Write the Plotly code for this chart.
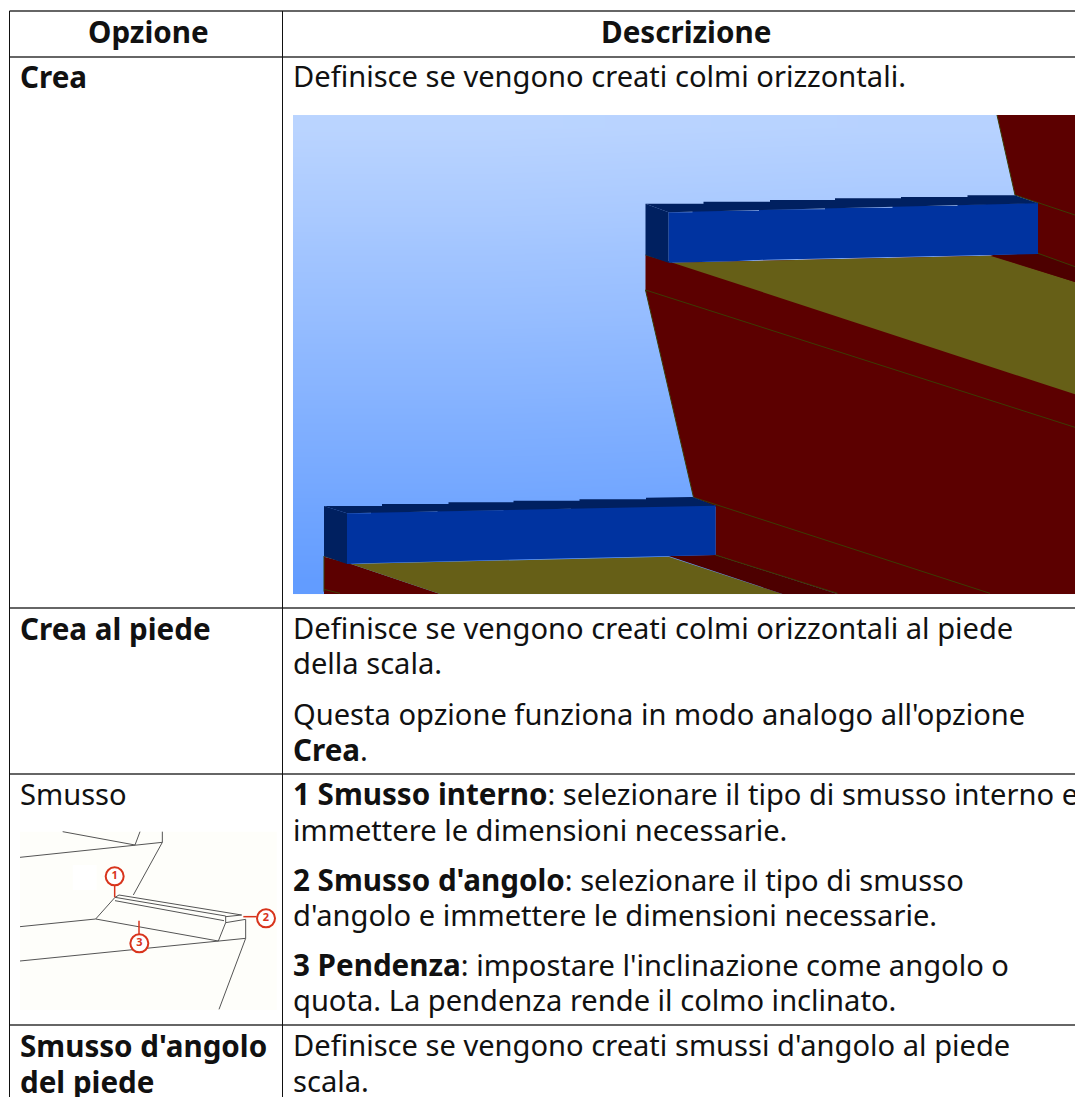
import plotly.graph_objects as go

W, H = 1075, 1097
FONT = "Noto Sans"
FS = 29.1
BOLD = '<b style="font-size:29.6px">%s</b>'

# ---- table grid (page pixels)
grid_rows = [11, 57, 608, 774, 1025]
grid_cols = [9.5, 282.5]

# ---- table text: (x, y, anchor, text)
cells = [
    (148, 31, "center", BOLD % "Opzione"),
    (686, 31, "center", BOLD % "Descrizione"),
    (18, 76, "left", BOLD % "Crea"),
    (291, 76, "left", "Definisce se vengono creati colmi orizzontali."),
    (18, 628, "left", BOLD % "Crea al piede"),
    (291, 628, "left", "Definisce se vengono creati colmi orizzontali al piede"),
    (291, 663, "left", "della scala."),
    (291, 714, "left", "Questa opzione funziona in modo analogo all'opzione"),
    (291, 749, "left", (BOLD % "Crea") + "."),
    (18, 794, "left", "Smusso"),
    (291, 793, "left", (BOLD % "1 Smusso interno") + ": selezionare il tipo di smusso interno e"),
    (291, 830, "left", "immettere le dimensioni necessarie."),
    (291, 879, "left", (BOLD % "2 Smusso d'angolo") + ": selezionare il tipo di smusso"),
    (291, 915, "left", "d'angolo e immettere le dimensioni necessarie."),
    (291, 964, "left", (BOLD % "3 Pendenza") + ": impostare l'inclinazione come angolo o"),
    (291, 1000, "left", "quota. La pendenza rende il colmo inclinato."),
    (18, 1045, "left", BOLD % "Smusso d'angolo"),
    (18, 1081, "left", BOLD % "del piede"),
    (291, 1045, "left", "Definisce se vengono creati smussi d'angolo al piede"),
    (291, 1081, "left", "scala."),
]

# ---- sky gradient of the picture (cell centres; cells fill the picture exactly)
sky_x = [488.5, 879.5]
sky_y = [127, 150.95, 174.9, 198.85, 222.8, 246.75, 270.7, 294.65, 318.6, 342.55, 366.5,
         390.45, 414.4, 438.35, 462.3, 486.25, 510.2, 534.15, 558.1, 582.05]
sky_z = [
    [0.00, 0.03], [0.05, 0.08], [0.10, 0.13], [0.15, 0.18], [0.20, 0.23],
    [0.26, 0.29], [0.31, 0.34], [0.36, 0.39], [0.41, 0.44], [0.47, 0.50],
    [0.52, 0.55], [0.57, 0.60], [0.63, 0.66], [0.68, 0.71], [0.73, 0.76],
    [0.78, 0.81], [0.84, 0.87], [0.89, 0.92], [0.94, 0.97], [1.00, 1.03],
]
sky_colors = [[0, "#bad4ff"], [1, "#5f9aff"]]

# ---- picture polygons, in picture units
RED, STRIP, OLIVE, BLUE, DARK, EDGE = "#5c0000", "#4d0000", "#665f17", "#0033a0", "#002060", "#3c3c04"
poly_red_x = [711, 711, 807, 851, 851, 1095, 1570, 1570, 1414, 1450, 1496, 1496, 1400, 765]
poly_red_y = [435, 540, 1162, 1190, 1335, 1452, 1452, 15, 15, 255, 280, 432, 437, 458]
poly_red_left_x = [68, 122, 300, 68]
poly_red_left_y = [1340, 1362, 1452, 1452]
poly_olive_up_x = [765, 1400, 1570, 1570]
poly_olive_up_y = [458, 437, 516, 853]
poly_strip_up_x = [1400, 1496, 1570, 1570]
poly_strip_up_y = [435, 430, 470, 516]
poly_olive_low_x = [122, 757, 985, 300]
poly_olive_low_y = [1362, 1340, 1452, 1452]
poly_strip_low_x = [757, 851, 1095, 985]
poly_strip_low_y = [1338, 1335, 1452, 1452]

up_top_x = [711, 827, 827, 960, 960, 1090, 1090, 1222, 1222, 1355, 1355, 1450, 1496, 757]
up_top_y = [281, 281, 275, 275, 270, 270, 265, 265, 261, 261, 256, 256, 280, 307]
up_front_x = [757, 805, 805, 938, 938, 1070, 1070, 1205, 1205, 1335, 1335, 1496, 1496, 1400, 1360, 1225, 1090, 955, 885, 757]
up_front_y = [307, 307, 302, 302, 298, 298, 293, 293, 288, 288, 284, 278, 432, 435, 437, 441, 445, 449, 454, 458]
up_side_x = [711, 757, 757, 711]
up_side_y = [281, 307, 458, 435]

low_top_x = [68, 184, 184, 317, 317, 447, 447, 579, 579, 712, 712, 805, 851, 114]
low_top_y = [1188, 1188, 1182, 1182, 1177, 1177, 1172, 1172, 1168, 1168, 1163, 1161, 1187, 1210]
low_front_x = [114, 162, 162, 295, 295, 427, 427, 562, 562, 692, 692, 851, 851, 757, 625, 545, 410, 280, 145, 114]
low_front_y = [1210, 1210, 1205, 1205, 1201, 1201, 1196, 1196, 1191, 1191, 1187, 1185, 1335, 1338, 1343, 1347, 1351, 1355, 1360, 1362]
low_side_x = [68, 114, 114, 68]
low_side_y = [1188, 1210, 1362, 1338]

# thin edges in the picture
edge_x = [711, 1570, None, 711, 807, 1400, None, 1414, 1450, 1570, None, 1496, 1570, None,
          851, 1095, None, 711, 765, None, 68, 122, None, 68, 68, None, 68, 100]
edge_y = [540, 952, None, 540, 1162, 1450, None, 15, 255, 315, None, 430, 470, None,
          1335, 1450, None, 435, 458, None, 1338, 1362, None, 1338, 1445, None, 1438, 1450]

# ---- sketch, in sketch units
sketch_bg_x = [60, 830, 830, 60]
sketch_bg_y = [155, 155, 690, 690]
sketch_white_x = [218, 290, 290, 218]
sketch_white_y = [255, 255, 330, 330]
sketch_x = [188, 405, None, 60, 487, 487, None, 405, 420, None, 487, 400, None,
            60, 287, 345, 677, 677, 655, None, 357, 725, 677, None, 345, 357, None, 345, 672, None,
            677, 737, 737, None,
            287, 655, None, 60, 737, None, 737, 657]
sketch_y = [155, 195, None, 232, 187, 155, None, 195, 155, None, 187, 345, None,
            440, 417, 352, 408, 428, 483, None, 345, 405, 410, None, 352, 345, None, 362, 422, None,
            428, 418, 475, None,
            417, 483, None, 543, 475, None, 475, 688]
callout_x = [344, 344, None, 730, 770, None, 417, 417]
callout_y = [317, 352, None, 410, 410, None, 422, 462]
badge_x = [344, 798, 418]
badge_y = [289, 415, 490]
badge_labels = ["1", "2", "3"]
SK_RED = "#d8341c"

fig = go.Figure()

fig.add_trace(go.Heatmap(x=sky_x, y=sky_y, z=sky_z, colorscale=sky_colors, zsmooth="best",
                         showscale=False, hoverinfo="skip", zmin=0, zmax=1.03))


def poly(xs, ys, color):
    fig.add_trace(go.Scatter(x=xs, y=ys, fill="toself", fillcolor=color, mode="lines",
                             line=dict(width=0, color=color), hoverinfo="skip",
                             xaxis="x2", yaxis="y2", showlegend=False))


poly(poly_red_x, poly_red_y, RED)
poly(poly_red_left_x, poly_red_left_y, RED)
poly(poly_olive_up_x, poly_olive_up_y, OLIVE)
poly(poly_strip_up_x, poly_strip_up_y, STRIP)
poly(poly_olive_low_x, poly_olive_low_y, OLIVE)
poly(poly_strip_low_x, poly_strip_low_y, STRIP)
fig.add_trace(go.Scatter(x=edge_x, y=edge_y, mode="lines", line=dict(width=1, color=EDGE),
                         hoverinfo="skip", xaxis="x2", yaxis="y2", showlegend=False))
poly(up_front_x, up_front_y, BLUE)
poly(up_top_x, up_top_y, DARK)
poly(up_side_x, up_side_y, DARK)
poly(low_front_x, low_front_y, BLUE)
poly(low_top_x, low_top_y, DARK)
poly(low_side_x, low_side_y, DARK)


def poly3(xs, ys, color):
    fig.add_trace(go.Scatter(x=xs, y=ys, fill="toself", fillcolor=color, mode="lines",
                             line=dict(width=0, color=color), hoverinfo="skip",
                             xaxis="x3", yaxis="y3", showlegend=False))


poly3(sketch_bg_x, sketch_bg_y, "#fefefa")
poly3(sketch_white_x, sketch_white_y, "#ffffff")
fig.add_trace(go.Scatter(x=sketch_x, y=sketch_y, mode="lines", line=dict(width=1, color="#555555"),
                         hoverinfo="skip", xaxis="x3", yaxis="y3", showlegend=False))
fig.add_trace(go.Scatter(x=callout_x, y=callout_y, mode="lines", line=dict(width=1.5, color=SK_RED),
                         hoverinfo="skip", xaxis="x3", yaxis="y3", showlegend=False))
fig.add_trace(go.Scatter(x=badge_x, y=badge_y, mode="markers+text", text=badge_labels,
                         textposition="middle center",
                         textfont=dict(family=FONT, size=11, color=SK_RED, weight="bold"),
                         marker=dict(size=18, color="white", line=dict(width=2, color=SK_RED)),
                         hoverinfo="skip", xaxis="x3", yaxis="y3", showlegend=False))

shapes = []
for y in grid_rows:
    shapes.append(dict(type="line", xref="x", yref="y", x0=grid_cols[0], x1=W, y0=y, y1=y,
                       line=dict(color="#333333", width=1.3)))
for x in grid_cols:
    shapes.append(dict(type="line", xref="x", yref="y", x0=x, x1=x, y0=grid_rows[0], y1=H,
                       line=dict(color="#111111", width=1)))

annotations = [
    dict(x=x, y=y, xref="x", yref="y", text=t, showarrow=False, xanchor=a, yanchor="middle",
         font=dict(family=FONT, size=FS, color="#111111"), align="left")
    for x, y, a, t in cells
]

hidden = dict(visible=False, fixedrange=True)
fig.update_layout(
    width=W, height=H, margin=dict(l=0, r=0, t=0, b=0, pad=0),
    paper_bgcolor="white", plot_bgcolor="white", showlegend=False,
    shapes=shapes, annotations=annotations,
    xaxis=dict(range=[0, W], **hidden),
    yaxis=dict(range=[H, 0], **hidden),
    xaxis2=dict(range=[-580, 1570], overlaying="x", **hidden),
    yaxis2=dict(range=[2961, -330], overlaying="y", **hidden),
    xaxis3=dict(range=[0, 3225], overlaying="x", **hidden),
    yaxis3=dict(range=[951, -2340], overlaying="y", **hidden),
)

fig.write_html("out.html", post_script="document.body.style.margin='0';document.body.style.overflow='hidden';",
               config=dict(displayModeBar=False))
